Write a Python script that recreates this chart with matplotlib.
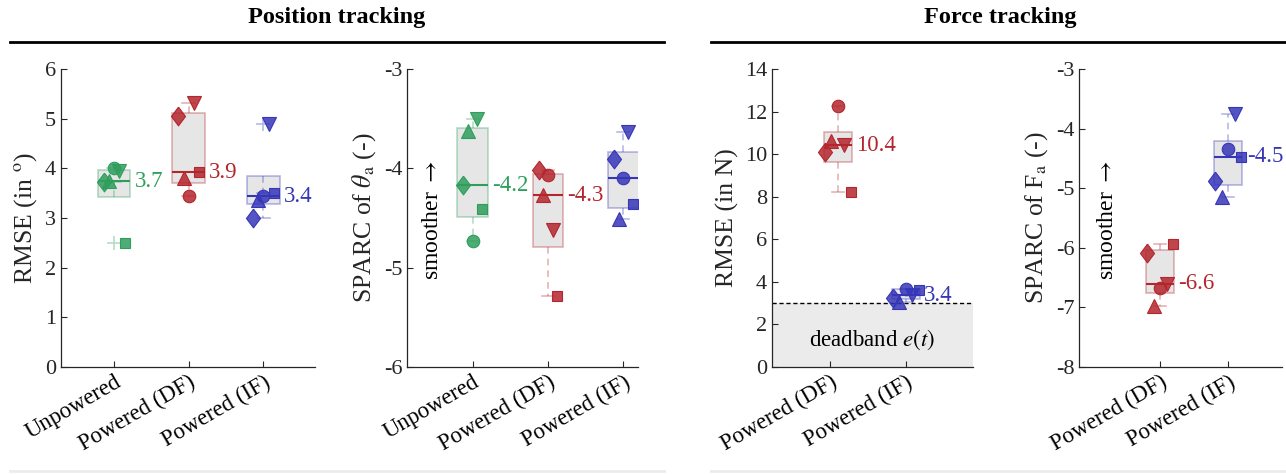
import numpy as np
import matplotlib
matplotlib.use('Agg')
import matplotlib.pyplot as plt
from matplotlib.colors import to_rgba
from matplotlib.lines import Line2D

plt.rcParams['font.family'] = ['Liberation Serif', 'DejaVu Serif']
plt.rcParams['mathtext.fontset'] = 'stix'
plt.rcParams['axes.unicode_minus'] = False

# subject order: circle, down-triangle, diamond, up-triangle, square
pos_rmse_unpowered = [4.00, 3.95, 3.73, 3.74, 2.49]
pos_rmse_df = [3.44, 5.31, 5.06, 3.80, 3.92]
pos_rmse_if = [3.44, 4.89, 3.00, 3.37, 3.51]

pos_sparc_unpowered = [-4.73, -3.50, -4.17, -3.62, -4.41]
pos_sparc_df = [-4.07, -4.62, -4.02, -4.27, -5.29]
pos_sparc_if = [-4.10, -3.63, -3.91, -4.51, -4.36]

force_rmse_df = [12.26, 10.42, 10.08, 10.62, 8.23]
force_rmse_if = [3.68, 3.37, 3.26, 3.05, 3.64]

force_sparc_df = [-6.68, -6.60, -6.08, -6.98, -5.93]
force_sparc_if = [-4.35, -3.76, -4.88, -5.14, -4.47]

cats3 = ['Unpowered', 'Powered (DF)', 'Powered (IF)']
cats2 = ['Powered (DF)', 'Powered (IF)']

GREEN = '#2f9e5c'
RED = '#b3262d'
BLUE = '#3636b8'
DARK = '#262626'

DIAMOND = [(0, 1), (0.75, 0), (0, -1), (-0.75, 0), (0, 1)]
MARKERS = [('o', 0.0, 9), ('v', 0.5, 10), (DIAMOND, -1.0, 13.5),
           ('^', -0.5, 10), ('s', 1.0, 7.5)]


def box_stats(vals):
    # quartiles the way MATLAB's prctile does it
    v = np.sort(np.asarray(vals, float))
    n = len(v)
    p = (np.arange(1, n + 1) - 0.5) / n
    q1, med, q3 = np.interp([0.25, 0.5, 0.75], p, v)
    iqr = q3 - q1
    lo, hi = q1 - 1.5 * iqr, q3 + 1.5 * iqr
    inside = v[(v >= lo) & (v <= hi)]
    return dict(med=med, q1=q1, q3=q3, whislo=inside.min(), whishi=inside.max(),
                fliers=v[(v < lo) | (v > hi)])


def draw_panel(ax, groups, colors, positions, width, jit):
    stats = [box_stats(g) for g in groups]
    bp = ax.bxp(stats, positions=positions, widths=width, capwidths=width * 0.4,
                patch_artist=True, manage_ticks=False)
    for i, c in enumerate(colors):
        faint = to_rgba(c, 0.35)
        bp['boxes'][i].set(facecolor='#e6e6e6', edgecolor=faint, linewidth=1.2, zorder=1)
        for k in (2 * i, 2 * i + 1):
            bp['whiskers'][k].set(color=faint, linestyle=(0, (4, 3)), linewidth=1.2)
            bp['caps'][k].set(color=faint, linewidth=1.2)
        bp['medians'][i].set(color=c, linewidth=1.5, zorder=2)
        bp['fliers'][i].set(marker='+', markeredgecolor=faint, markersize=10,
                            markeredgewidth=1.2)
        for (m, dx, ms), val in zip(MARKERS, groups[i]):
            ax.plot(positions[i] + dx * jit, val, marker=m, ms=ms, ls='none',
                    mfc=to_rgba(c, 0.85), mec=c, mew=0.8, zorder=3)
        ax.annotate(f"{stats[i]['med']:.1f}", xy=(positions[i] + width / 2, stats[i]['med']),
                    xytext=(3, 0), textcoords='offset points', va='center', ha='left',
                    color=c, fontsize=16.5, zorder=4)


def style_axis(ax, cats, ylim, yticks, ylabel, xlim):
    ax.set_xlim(*xlim)
    ax.set_ylim(*ylim)
    ax.set_yticks(yticks)
    ax.set_xticks(range(1, len(cats) + 1))
    ax.set_xticklabels(cats, rotation=30, ha='right', va='top', rotation_mode='anchor',
                       fontsize=16.5, color='black')
    ax.tick_params(axis='y', labelsize=16, labelcolor=DARK)
    ax.tick_params(direction='in', length=4, width=0.8, color=DARK)
    ax.spines['top'].set_visible(False)
    ax.spines['right'].set_visible(False)
    for s in ('left', 'bottom'):
        ax.spines[s].set_color(DARK)
        ax.spines[s].set_linewidth(0.9)
    ax.set_ylabel(ylabel, fontsize=18.5, color=DARK)


fig = plt.figure(figsize=(12.86, 4.74), dpi=100)
bottom, height = 0.2257, 0.6287
ax1 = fig.add_axes([61 / 1286, bottom, 254 / 1286, height])
ax2 = fig.add_axes([407 / 1286, bottom, 231 / 1286, height])
ax3 = fig.add_axes([772 / 1286, bottom, 201 / 1286, height])
ax4 = fig.add_axes([1079 / 1286, bottom, 203 / 1286, height])

draw_panel(ax1, [pos_rmse_unpowered, pos_rmse_df, pos_rmse_if], [GREEN, RED, BLUE],
           [1, 2, 3], 0.44, 0.14)
style_axis(ax1, cats3, (0, 6), range(0, 7), r'RMSE (in $^\mathrm{o}$)', (0.29, 3.69))

draw_panel(ax2, [pos_sparc_unpowered, pos_sparc_df, pos_sparc_if], [GREEN, RED, BLUE],
           [1, 2, 3], 0.41, 0.125)
style_axis(ax2, cats3, (-6, -3), range(-6, -2), r'SPARC of $\theta_\mathrm{a}$ (-)',
           (0.128, 3.195))
ax2.text(0.47, -4.52, r'smoother $\rightarrow$', rotation=90, ha='center', va='center',
         fontsize=17)

ax3.axhspan(0, 3, color='#ebebeb', zorder=0, lw=0)
ax3.axhline(3, color='black', ls=(0, (3, 2)), lw=1.0, zorder=0.5)
draw_panel(ax3, [force_rmse_df, force_rmse_if], [RED, BLUE], [1.1, 2.0], 0.375, 0.17)
style_axis(ax3, cats2, (0, 14), range(0, 15, 2), 'RMSE (in N)', (0.228, 2.89))
ax3.text(1.55, 1.3, r'deadband $e(t)$', ha='center', va='center', fontsize=16.5)

draw_panel(ax4, [force_sparc_df, force_sparc_if], [RED, BLUE], [1, 2], 0.42, 0.19)
style_axis(ax4, cats2, (-8, -3), range(-8, -2), r'SPARC of F$_\mathrm{a}$ (-)',
           (-0.19, 2.79))
ax4.text(0.23, -5.54, r'smoother $\rightarrow$', rotation=90, ha='center', va='center',
         fontsize=17)

# section headers
fig.text(337 / 1286, 1 - 18 / 474, 'Position tracking', ha='center', va='center',
         fontsize=17.5, fontweight='bold')
fig.text(1000 / 1286, 1 - 18 / 474, 'Force tracking', ha='center', va='center',
         fontsize=17.5, fontweight='bold')
ytop = 1 - 42 / 474
fig.add_artist(Line2D([10 / 1286, 664 / 1286], [ytop, ytop], color='black', lw=2))
fig.add_artist(Line2D([711 / 1286, 1.0], [ytop, ytop], color='black', lw=2))
ybot = 1 - 471 / 474
fig.add_artist(Line2D([10 / 1286, 664 / 1286], [ybot, ybot], color='#ececec', lw=2))
fig.add_artist(Line2D([711 / 1286, 1.0], [ybot, ybot], color='#ececec', lw=2))

fig.savefig('out.png', dpi=100)
